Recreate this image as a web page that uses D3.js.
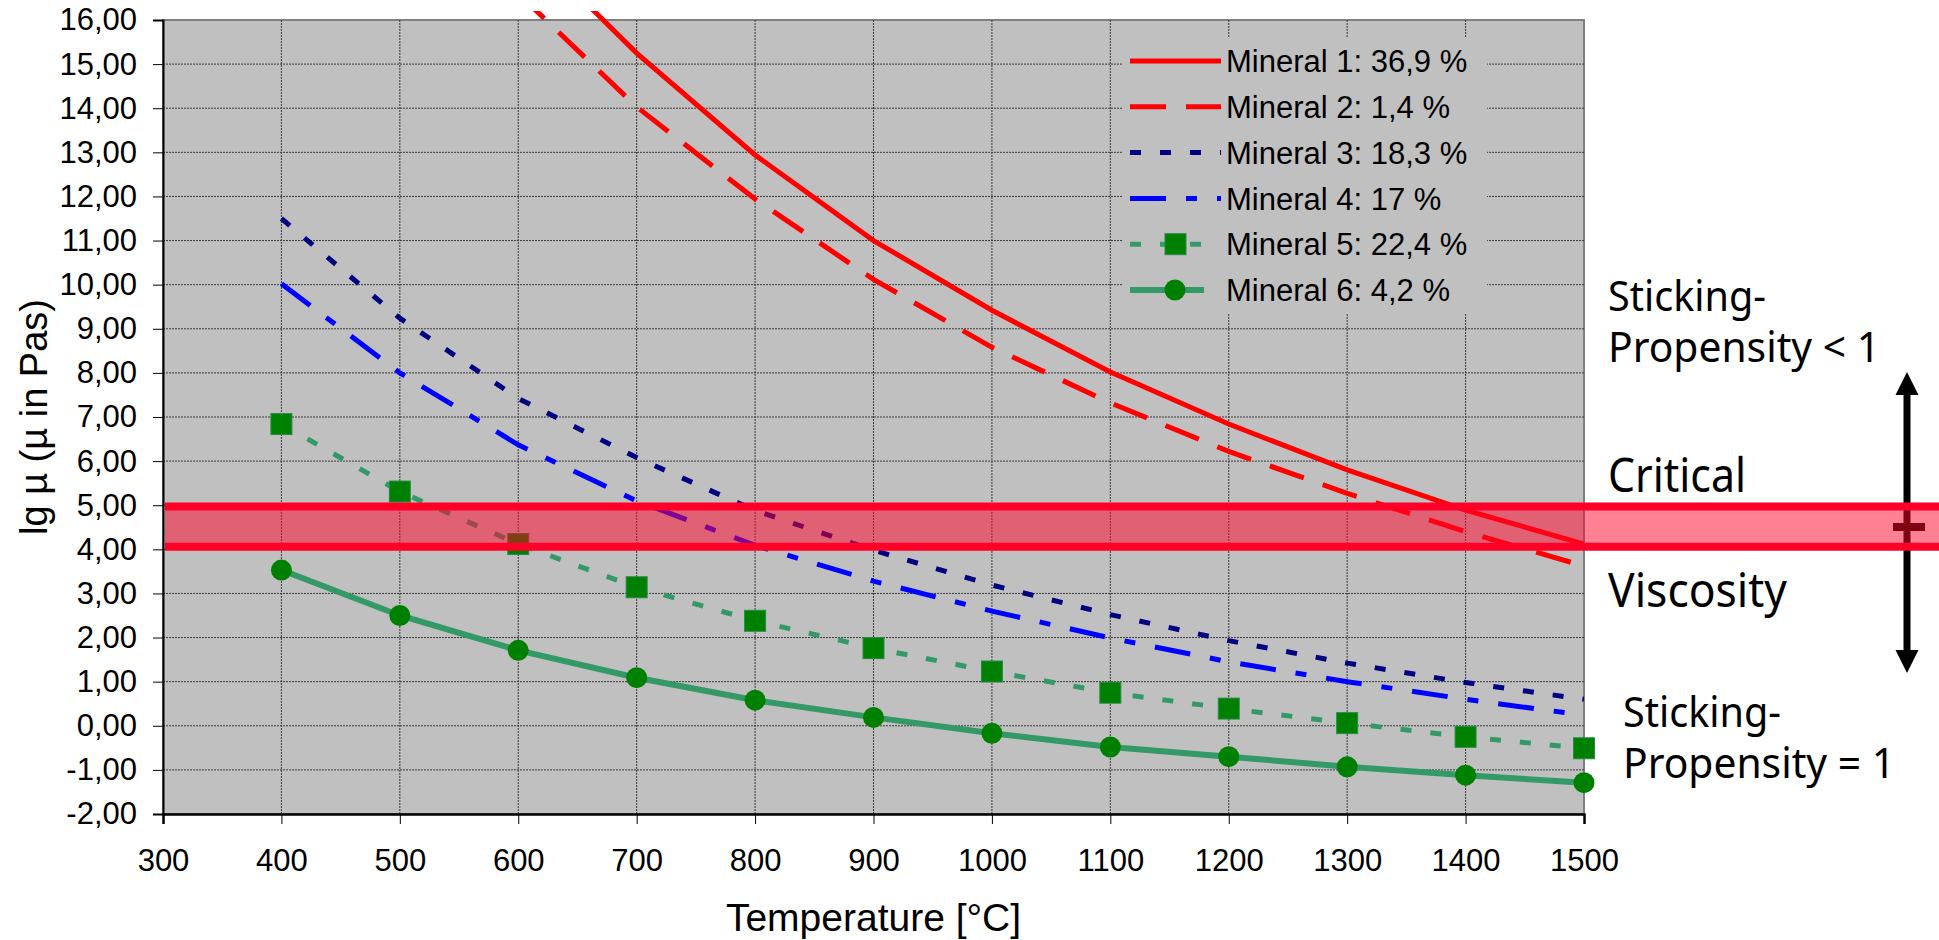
<!DOCTYPE html>
<meta charset="utf-8">
<style>
body { margin: 0; background: #fff; }
svg text { font-family: "Liberation Sans", Arial, sans-serif; fill: #000; }
.side { font-family: "Noto Sans", "DejaVu Sans", sans-serif; }
.grid line { stroke: #3a3a3a; stroke-width: 1; stroke-dasharray: 2,1; }
.axis path, .axis line { stroke: #000; }
</style>
<svg width="1939" height="940"></svg>
<script src="https://cdn.jsdelivr.net/npm/d3@7"></script>
<script>
// values
var temps = [400, 500, 600, 700, 800, 900, 1000, 1100, 1200, 1300, 1400, 1500];
var mineral1 = [null, null, 17.9, 15.25, 12.94, 11.0, 9.42, 8.02, 6.84, 5.8, 4.89, 4.12];
var mineral2 = [null, null, 16.6, 14.03, 11.94, 10.12, 8.58, 7.32, 6.22, 5.27, 4.4, 3.62];
var mineral3 = [11.5, 9.24, 7.42, 6.08, 4.88, 3.98, 3.19, 2.52, 1.93, 1.42, 0.98, 0.6];
var mineral4 = [10.02, 8.0, 6.37, 5.1, 4.09, 3.28, 2.6, 1.99, 1.45, 1.0, 0.6, 0.24];
var mineral5 = [6.84, 5.31, 4.12, 3.14, 2.38, 1.76, 1.23, 0.75, 0.39, 0.06, -0.25, -0.51];
var mineral6 = [3.53, 2.5, 1.71, 1.09, 0.58, 0.19, -0.17, -0.48, -0.70, -0.93, -1.12, -1.29];
var seriesNames = ["Mineral 1: 36,9 %", "Mineral 2: 1,4 %", "Mineral 3: 18,3 %",
                   "Mineral 4: 17 %", "Mineral 5: 22,4 %", "Mineral 6: 4,2 %"];
var xTicks = [300, 400, 500, 600, 700, 800, 900, 1000, 1100, 1200, 1300, 1400, 1500];
var yTicks = d3.range(-2, 17, 1);
var critical = [4.06, 4.97];

var svg = d3.select("svg"),
    margin = {top: 20, right: 355, bottom: 126, left: 163},
    width = +svg.attr("width") - margin.left - margin.right,
    height = +svg.attr("height") - margin.top - margin.bottom;

var x = d3.scaleLinear().domain([300, 1500]).range([0, width]),
    y = d3.scaleLinear().domain([-2, 16]).range([height, 0]);

var g = svg.append("g")
    .attr("transform", "translate(" + margin.left + "," + margin.top + ")");

// plot area
g.append("rect")
    .attr("width", width).attr("height", height)
    .attr("fill", "#c0c0c0").attr("stroke", "#808080").attr("stroke-width", 2);

var grid = g.append("g").attr("class", "grid");
grid.selectAll(".h").data(yTicks.slice(1, -1)).enter().append("line")
    .attr("x1", 0).attr("x2", width)
    .attr("y1", function(d) { return y(d); }).attr("y2", function(d) { return y(d); });
grid.selectAll(".v").data(xTicks.slice(1, -1)).enter().append("line")
    .attr("y1", 0).attr("y2", height)
    .attr("x1", function(d) { return x(d); }).attr("x2", function(d) { return x(d); });

// legend box hides the grid behind it
var legX = 1122 - margin.left, legY = 38 - margin.top;
g.append("rect")
    .attr("x", legX).attr("y", legY).attr("width", 365).attr("height", 276)
    .attr("fill", "#c0c0c0");

var fmt = function(d) { return d.toFixed(2).replace(".", ","); };

var yaxis = g.append("g").attr("class", "axis")
    .call(d3.axisLeft(y).tickValues(yTicks).tickFormat(fmt).tickSize(10).tickPadding(16));
yaxis.selectAll("text").style("font-size", "31px");
yaxis.select(".domain").attr("stroke", "#404040").attr("stroke-width", 2);

var xaxis = g.append("g").attr("class", "axis")
    .attr("transform", "translate(0," + height + ")")
    .call(d3.axisBottom(x).tickValues(xTicks).tickFormat(d3.format("d")).tickSize(10).tickPadding(25));
xaxis.selectAll("text").style("font-size", "31px");
xaxis.select(".domain").attr("stroke", "#404040").attr("stroke-width", 2.5);

svg.append("text")
    .attr("x", margin.left + width / 2).attr("y", 931)
    .attr("text-anchor", "middle").style("font-size", "39px")
    .text("Temperature [°C]");

svg.append("text")
    .attr("transform", "translate(47," + (margin.top + height / 2) + ") rotate(-90)")
    .attr("text-anchor", "middle").style("font-size", "38px")
    .text("lg µ (µ in Pas)");

// series
var styles = [
  {data: mineral1, color: "#ff0000", dash: null, w: 5},
  {data: mineral2, color: "#ff0000", dash: "36,20", w: 5},
  {data: mineral3, color: "#000080", dash: "11,19", w: 5},
  {data: mineral4, color: "#0000ff", dash: "36,20,11,20", w: 5},
  {data: mineral5, color: "#339966", dash: "11,19", w: 5, marker: "square"},
  {data: mineral6, color: "#339966", dash: null, w: 6, marker: "circle"}
];

svg.append("clipPath").attr("id", "clip").append("rect")
    .attr("x", 0).attr("y", 11 - margin.top).attr("width", width).attr("height", height - 11 + margin.top);

var line = d3.line()
    .defined(function(d) { return d.v !== null; })
    .x(function(d) { return x(d.t); })
    .y(function(d) { return y(d.v); });

var lines = g.append("g").attr("clip-path", "url(#clip)");
styles.forEach(function(s) {
  var pts = temps.map(function(t, i) { return {t: t, v: s.data[i]}; });
  lines.append("path")
      .datum(pts)
      .attr("fill", "none")
      .attr("stroke", s.color)
      .attr("stroke-width", s.w)
      .attr("stroke-dasharray", s.dash)
      .attr("d", line);
  if (s.marker == "square") {
    g.selectAll(".sq").data(pts).enter().append("rect")
        .attr("x", function(d) { return x(d.t) - 10.5; })
        .attr("y", function(d) { return y(d.v) - 10.5; })
        .attr("width", 21).attr("height", 21)
        .attr("fill", "#008000").attr("stroke", "#2a8a4a").attr("stroke-width", 1);
  }
  if (s.marker == "circle") {
    g.selectAll(".ci").data(pts).enter().append("circle")
        .attr("cx", function(d) { return x(d.t); })
        .attr("cy", function(d) { return y(d.v); })
        .attr("r", 10.5)
        .attr("fill", "#008000");
  }
});

// legend
var leg = svg.append("g");
seriesNames.forEach(function(name, i) {
  var s = styles[i], cy = 61 + i * 45.8;
  leg.append("line")
      .attr("x1", 1130).attr("x2", s.marker ? 1204 : 1221)
      .attr("y1", cy).attr("y2", cy)
      .attr("stroke", s.color).attr("stroke-width", s.w)
      .attr("stroke-dasharray", s.dash);
  if (s.marker == "square") {
    leg.append("rect").attr("x", 1165).attr("y", cy - 10.5).attr("width", 21).attr("height", 21)
        .attr("fill", "#008000").attr("stroke", "#2a8a4a").attr("stroke-width", 1);
  }
  if (s.marker == "circle") {
    leg.append("circle").attr("cx", 1175).attr("cy", cy).attr("r", 10.5).attr("fill", "#008000");
  }
  leg.append("text")
      .attr("x", 1226).attr("y", cy).attr("dy", "0.36em")
      .style("font-size", "31px")
      .text(name);
});

// double arrow at right
var arrowX = 1907, arrowTop = 372, arrowBot = 673;
svg.append("rect").attr("x", arrowX - 3.5).attr("y", arrowTop + 20)
    .attr("width", 7).attr("height", arrowBot - arrowTop - 40).attr("fill", "#000");
svg.append("path")
    .attr("d", "M" + arrowX + "," + arrowTop + "L" + (arrowX + 11.5) + "," + (arrowTop + 23) +
               "L" + (arrowX - 11.5) + "," + (arrowTop + 23) + "Z")
    .attr("fill", "#000");
svg.append("path")
    .attr("d", "M" + arrowX + "," + arrowBot + "L" + (arrowX + 11.5) + "," + (arrowBot - 23) +
               "L" + (arrowX - 11.5) + "," + (arrowBot - 23) + "Z")
    .attr("fill", "#000");
svg.append("rect").attr("x", 1893).attr("y", 523).attr("width", 32).attr("height", 8).attr("fill", "#000");

// critical viscosity band, drawn on top
var bandX = margin.left + 2;
svg.append("rect")
    .attr("x", bandX).attr("width", 1939 - bandX)
    .attr("y", margin.top + y(critical[1])).attr("height", y(critical[0]) - y(critical[1]))
    .attr("fill", "rgb(255,0,40)").attr("fill-opacity", 0.5);
critical.forEach(function(c) {
  svg.append("line")
      .attr("x1", bandX).attr("x2", 1939)
      .attr("y1", margin.top + y(c)).attr("y2", margin.top + y(c))
      .attr("stroke", "rgb(255,0,40)").attr("stroke-width", 8);
});

// side notes
var notes = [
  {t: "Sticking-", x: 1608, y: 311, s: 41, w: 158},
  {t: "Propensity < 1", x: 1608, y: 362, s: 41, w: 272},
  {t: "Critical", x: 1608, y: 492, s: 48, w: 138},
  {t: "Viscosity", x: 1608, y: 607, s: 48, w: 179},
  {t: "Sticking-", x: 1623, y: 727, s: 41, w: 158},
  {t: "Propensity = 1", x: 1623, y: 778, s: 41, w: 272}
];
notes.forEach(function(n) {
  svg.append("text").attr("class", "side")
      .attr("x", n.x).attr("y", n.y)
      .attr("textLength", n.w).attr("lengthAdjust", "spacingAndGlyphs")
      .style("font-size", n.s + "px")
      .text(n.t);
});
</script>
